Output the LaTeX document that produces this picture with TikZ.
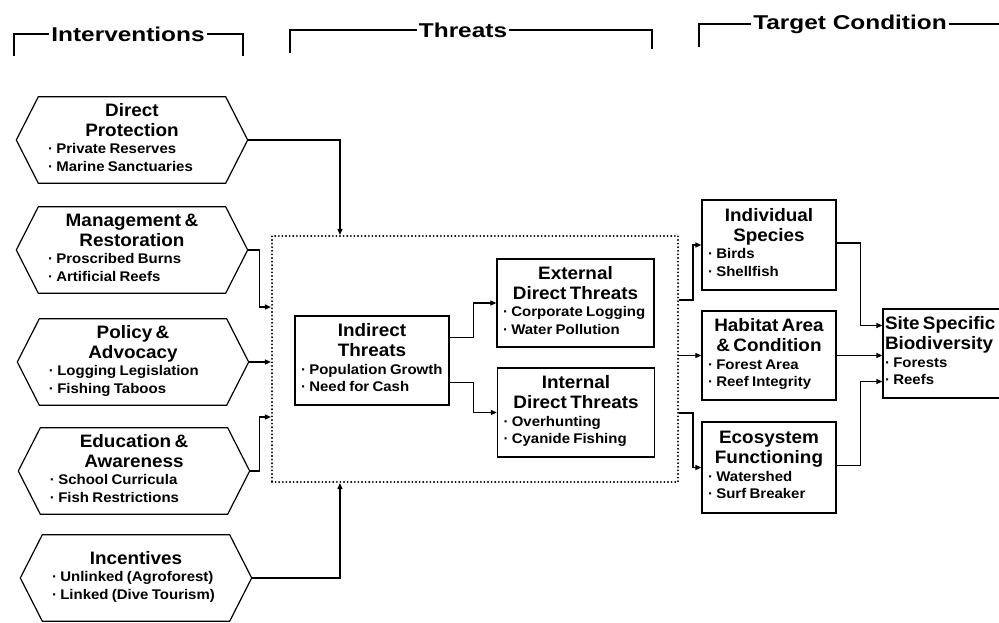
\documentclass[tikz,border=0pt]{standalone}
\usepackage{fontspec}
\setmainfont{Liberation Sans}
\newfontfamily\hdrfam[FakeStretch=1.22]{Liberation Sans}
\newfontfamily\ttlfam[FakeStretch=1.05]{Liberation Sans}
\newfontfamily\bltfam[FakeStretch=1.07]{Liberation Sans}
\newcommand\Hdr{\hdrfam\bfseries\fontsize{20}{22}\selectfont}
\newcommand\Ttl{\ttlfam\bfseries\fontsize{18}{20}\selectfont}
\newcommand\Blt{\bltfam\bfseries\fontsize{14}{17.5}\selectfont}
\newcommand\hextext[2]{{\centering\Ttl #1\par}{\raggedright\Blt\hspace*{16pt}\begin{tabular}[t]{@{}l@{}}#2\end{tabular}\par}}
\newcommand\boxtext[2]{{\centering\Ttl #1\par}{\raggedright\Blt\begin{tabular}[t]{@{}l@{}}#2\end{tabular}\par}}
\newcommand\lefttext[2]{{\raggedright\Ttl #1\par}{\raggedright\Blt\begin{tabular}[t]{@{}l@{}}#2\end{tabular}\par}}
\newcommand\hexframe[1]{\draw[ln] ([xshift=22pt]#1.north west) -- ([xshift=-22pt]#1.north east) -- (#1.east) -- ([xshift=-22pt]#1.south east) -- ([xshift=22pt]#1.south west) -- (#1.west) -- cycle;}
\usetikzlibrary{arrows.meta,calc}
\tikzset{
 ln/.style={line width=1.2pt},
 arr/.style={line width=1.2pt,-{Triangle[length=6pt,width=5pt]}},
 hexn/.style={inner xsep=15.5pt, inner ysep=0pt, text width=200pt, minimum height=86pt},
 rbox/.style={draw, line width=1.3pt, inner xsep=6pt, inner ysep=0pt},
 hdr/.style={inner xsep=2pt, inner ysep=2pt, font=\Hdr},
 dotbox/.style={draw, line width=2.1pt, dash pattern=on 0pt off 3.6pt, line cap=round, minimum width=406pt, minimum height=246pt, inner sep=0pt},
}
\begin{document}
\begin{tikzpicture}[x=1pt,y=-1pt]
\useasboundingbox (0,0) rectangle (999,623);
\clip (0,0) rectangle (999,623);
% headers
\node[hdr] (hI) at (128,34) {Interventions};
\draw[ln] (14,56) -- (14,34) -- (hI.west);
\draw[ln] (hI.east) -- (243,34) -- (243,56);
\node[hdr] (hT) at (463,30) {Threats};
\draw[ln] (290,53) -- (290,30) -- (hT.west);
\draw[ln] (hT.east) -- (652,30) -- (652,49);
\node[hdr] (hC) at (850,24) {Target Condition};
\draw[ln] (699,47) -- (699,24) -- (hC.west);
\draw[ln] (hC.east) -- (999,24);
% interventions
\node[hexn] (dp) at (132,140) {\hextext{Direct\\Protection}{· Private Reserves\\· Marine Sanctuaries}};
\hexframe{dp}
\node[hexn] (mr) at (132,250) {\hextext{Management \&\\Restoration}{· Proscribed Burns\\· Artificial Reefs}};
\hexframe{mr}
\node[hexn] (pa) at (133,362) {\hextext{Policy \&\\Advocacy}{· Logging Legislation\\· Fishing Taboos}};
\hexframe{pa}
\node[hexn] (ea) at (134,471) {\hextext{Education \&\\Awareness}{· School Curricula\\· Fish Restrictions}};
\hexframe{ea}
\node[hexn] (inc) at (136,578) {\hextext{Incentives}{· Unlinked (Agroforest)\\· Linked (Dive Tourism)}};
\hexframe{inc}
% threats
\node[dotbox] (dot) at (475,359) {};
\node[rbox, text width=142pt, minimum height=89pt] (it) at (372,360.5) {\boxtext{Indirect\\Threats}{· Population Growth\\· Need for Cash}};
\node[rbox, text width=145pt, minimum height=88pt] (ed) at (575.5,303) {\boxtext{External\\Direct Threats}{· Corporate Logging\\· Water Pollution}};
\node[rbox, text width=145pt, minimum height=89pt] (id) at (576,412.5) {\boxtext{Internal\\Direct Threats}{· Overhunting\\· Cyanide Fishing}};
% targets
\node[rbox, text width=122pt, minimum height=90pt] (is) at (769,245) {\boxtext{Individual\\Species}{· Birds\\· Shellfish}};
\node[rbox, text width=122pt, minimum height=89pt] (ha) at (769,355.5) {\boxtext{Habitat Area\\\& Condition}{· Forest Area\\· Reef Integrity}};
\node[rbox, text width=122pt, minimum height=91pt] (ef) at (769,467.5) {\boxtext{Ecosystem\\Functioning}{· Watershed\\· Surf Breaker}};
\node[rbox, inner xsep=2pt, text width=130pt, minimum height=89pt] (ss) at (950,353.5) {\lefttext{Site Specific\\Biodiversity}{· Forests\\· Reefs}};
% connectors: interventions -> threats
\draw[arr] (dp.east) -| ($(dot.north west)+(69,0)$);
\draw[arr] (mr.east) -- ++(12,0) |- ($(dot.west)+(0,-52)$);
\draw[arr] (pa.east) -- (pa.east -| dot.west);
\draw[arr] (ea.east) -- ++(10,0) |- ($(dot.west)+(0,58)$);
\draw[arr] (inc.east) -| ($(dot.south west)+(69,0)$);
% inside threats
\draw[arr] ($(it.east)+(0,-23)$) -- ++(24,0) |- (ed.west);
\draw[arr] ($(it.east)+(0,22)$) -- ++(24,0) |- (id.west);
% threats -> targets
\draw[arr] ($(dot.east)+(0,-59)$) -- ++(14,0) |- (is.west);
\draw[arr] (dot.east |- ha.west) -- (ha.west);
\draw[arr] ($(dot.east)+(0,54)$) -- ++(14,0) |- (ef.west);
% targets -> site specific
\draw[arr] ($(is.east)+(0,-2)$) -- ++(24,0) |- ($(ss.west)+(0,-28)$);
\draw[arr] (ha.east) -- (ha.east -| ss.west);
\draw[arr] ($(ef.east)+(0,-2)$) -- ++(24,0) |- ($(ss.west)+(0,28)$);
\end{tikzpicture}
\end{document}
